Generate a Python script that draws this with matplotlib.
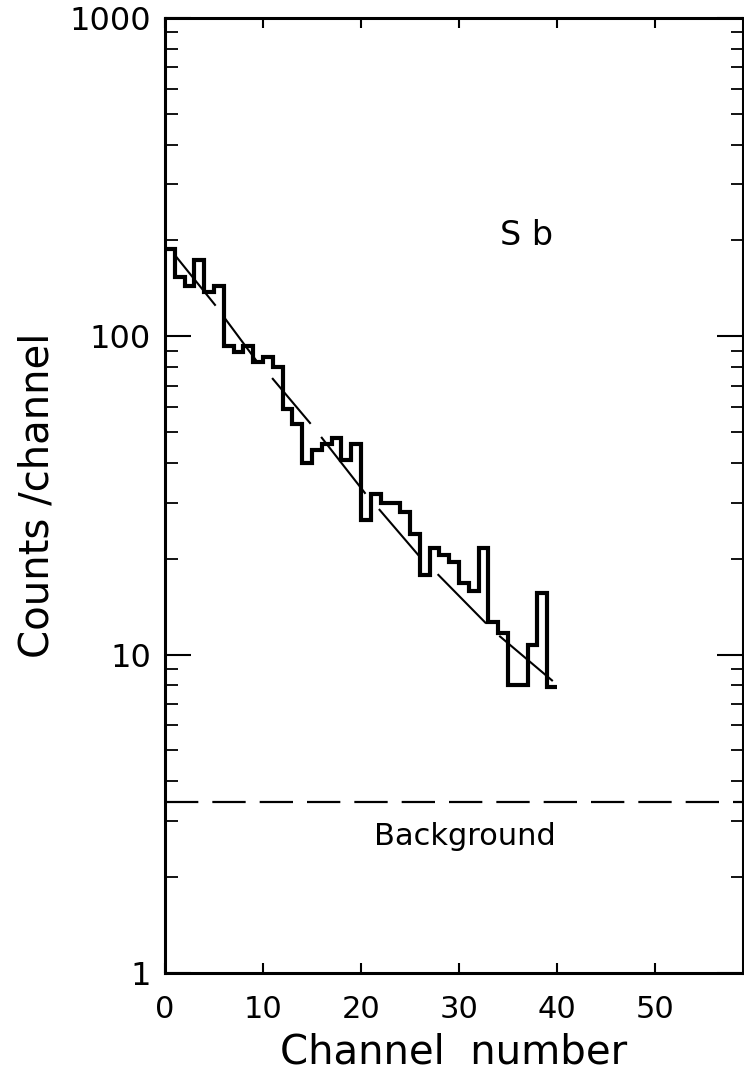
import numpy as np
import matplotlib
matplotlib.use('Agg')
import matplotlib.pyplot as plt

# counts per channel, channels 0..39
canais = np.arange(41)
contagens = [188, 154, 144, 174, 138, 144, 93, 89, 93, 83,
             86, 80, 59, 53, 40, 44, 46, 48, 41, 46,
             26.5, 32, 30, 30, 28, 24, 17.8, 21.6, 20.6, 19.6,
             16.8, 15.8, 21.6, 12.7, 11.7, 8, 8, 10.7, 15.6, 7.9]

# fitted line, drawn as separate dashes (start/end channel and value)
fit_x0 = [1.0, 6.1, 11.0, 16.0, 21.9, 27.9, 34.2]
fit_y0 = [180, 114, 73.5, 48.0, 28.5, 17.8, 11.4]
fit_x1 = [5.1, 9.4, 14.8, 20.4, 26.0, 32.7, 39.5]
fit_y1 = [125.5, 83.2, 53.4, 32.2, 20.3, 12.6, 8.3]

fundo = 3.44
yticks = [1, 10, 100, 1000]
xticks = [0, 10, 20, 30, 40, 50]

fig = plt.figure(figsize=(7.44, 10.8), dpi=100)
ax = fig.add_axes([0.2218, 0.0991, 0.7769, 0.8843])

ax.stairs(contagens, canais, baseline=None, color='black', linewidth=3.0)
for i in range(len(fit_x0)):
    ax.plot([fit_x0[i], fit_x1[i]], [fit_y0[i], fit_y1[i]], color='black', linewidth=1.5)

ax.axhline(fundo, color='black', linewidth=1.6, dashes=(15, 6.3))
ax.text(30.6, 2.68, 'Background', fontsize=22, ha='center', va='center')
ax.text(36.9, 207, 'S b', fontsize=24, ha='center', va='center')

ax.set_yscale('log')
ax.set_ylim(1, 1000)
ax.set_xlim(0, 59)
ax.set_yticks(yticks)
ax.set_yticklabels([str(v) for v in yticks])
ax.set_xticks(xticks)
ax.set_xticklabels([str(v) for v in xticks])
ax.yaxis.set_minor_formatter(matplotlib.ticker.NullFormatter())

ax.tick_params(axis='y', which='major', direction='in', length=19, width=1.5,
               left=True, right=True, labelsize=23, pad=10)
ax.tick_params(axis='y', which='minor', direction='in', length=9, width=1.3,
               left=True, right=True)
ax.tick_params(axis='x', which='major', direction='in', length=7, width=1.5,
               top=True, bottom=True, labelsize=22, pad=16)
ax.tick_params(axis='x', which='minor', bottom=False, top=False)

for s in ax.spines.values():
    s.set_linewidth(2.2)

ax.set_xlabel('Channel  number', fontsize=29, labelpad=6)
ax.set_ylabel('Counts /channel', fontsize=29, labelpad=9)

plt.savefig('out.png', dpi=100)
